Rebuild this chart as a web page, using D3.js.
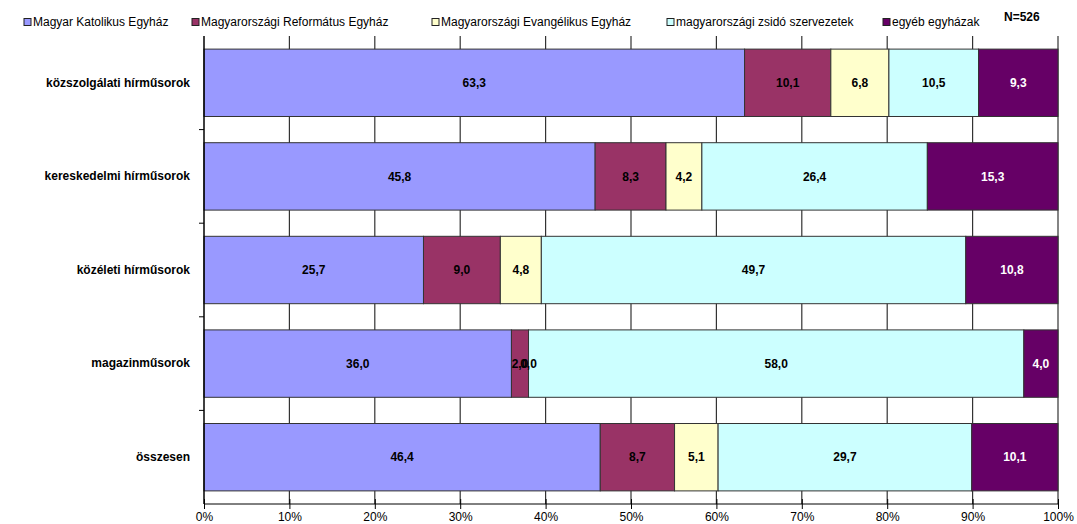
<!DOCTYPE html>
<html>
<head>
<meta charset="utf-8">
<script src="https://cdn.jsdelivr.net/npm/d3@7"></script>
<style>
  body { margin: 0; background: #fff; }
  text { font-family: "Liberation Sans", Arial, sans-serif; }
</style>
</head>
<body>
<div id="chart"></div>
<script>
// categories (top to bottom)
var categories = ["közszolgálati hírműsorok", "kereskedelmi hírműsorok", "közéleti hírműsorok", "magazinműsorok", "összesen"];
var seriesNames = ["Magyar Katolikus Egyház", "Magyarországi Református Egyház", "Magyarországi Evangélikus Egyház", "magyarországi zsidó szervezetek", "egyéb egyházak"];
// values per series, in category order
var katolikus = [63.3, 45.8, 25.7, 36.0, 46.4];
var reformatus = [10.1, 8.3, 9.0, 2.0, 8.7];
var evangelikus = [6.8, 4.2, 4.8, 0.0, 5.1];
var zsido = [10.5, 26.4, 49.7, 58.0, 29.7];
var egyeb = [9.3, 15.3, 10.8, 4.0, 10.1];
var xTicks = [0, 10, 20, 30, 40, 50, 60, 70, 80, 90, 100];

var colors = ["#9999ff", "#993366", "#ffffcc", "#ccffff", "#660066"];
var labelColors = ["#000", "#000", "#000", "#000", "#fff"];

var width = 1077, height = 524;
var margin = { top: 36, right: 19, bottom: 20, left: 204 };
var innerW = width - margin.left - margin.right,
    innerH = height - margin.top - margin.bottom;

var svg = d3.select("#chart").append("svg")
    .attr("width", width)
    .attr("height", height);

var g = svg.append("g")
    .attr("transform", "translate(" + margin.left + "," + margin.top + ")");

var x = d3.scaleLinear().domain([0, 100]).range([0, innerW]);
var y = d3.scaleBand().domain(categories).range([0, innerH]).paddingInner(0.28).paddingOuter(0.14);

// build rows
var series = [katolikus, reformatus, evangelikus, zsido, egyeb];
var rows = categories.map(function (c, i) {
    var r = { cat: c };
    seriesNames.forEach(function (s, j) { r[s] = series[j][i]; });
    return r;
});
var stacked = d3.stack().keys(seriesNames)(rows);

// vertical gridlines
g.selectAll(".grid")
    .data(xTicks.slice(1))
    .enter().append("line")
    .attr("x1", function (d) { return x(d); })
    .attr("x2", function (d) { return x(d); })
    .attr("y1", 0)
    .attr("y2", innerH)
    .attr("stroke", "#333")
    .attr("stroke-width", 1.2);

// bars
var layers = g.selectAll(".layer")
    .data(stacked)
    .enter().append("g")
    .attr("fill", function (d, i) { return colors[i]; });

layers.selectAll("rect")
    .data(function (d) { return d; })
    .enter().append("rect")
    .attr("x", function (d) { return x(d[0]); })
    .attr("y", function (d) { return y(d.data.cat); })
    .attr("width", function (d) { return x(d[1]) - x(d[0]); })
    .attr("height", y.bandwidth())
    .attr("stroke", "#333")
    .attr("stroke-width", 1);

// value labels
stacked.forEach(function (layer, i) {
    g.selectAll(".lbl" + i)
        .data(layer)
        .enter().append("text")
        .attr("x", function (d) { return x((d[0] + d[1]) / 2); })
        .attr("y", function (d) { return y(d.data.cat) + y.bandwidth() / 2; })
        .attr("dy", "0.35em")
        .attr("text-anchor", "middle")
        .attr("font-size", 12)
        .attr("font-weight", "bold")
        .attr("fill", labelColors[i])
        .text(function (d) { return (d[1] - d[0]).toFixed(1).replace(".", ","); });
});

// x axis
var xAxis = g.append("g")
    .attr("transform", "translate(0," + innerH + ")")
    .call(d3.axisBottom(x).tickValues(xTicks).tickSize(5).tickPadding(3).tickFormat(function (d) { return d + "%"; }));
xAxis.select(".domain").attr("stroke", "#000").attr("d", "M0,0H" + innerW);
xAxis.selectAll(".tick line").attr("stroke", "#000").attr("y1", -5).attr("y2", 5);
xAxis.selectAll("text").attr("font-size", 12).attr("fill", "#000");

// y axis
var yAxis = g.append("g").call(d3.axisLeft(y).tickSize(0).tickPadding(14));
yAxis.select(".domain").attr("stroke", "#000").attr("stroke-width", 1.5).attr("d", "M0,0V" + innerH);
yAxis.selectAll("text").attr("font-size", 12).attr("font-weight", "bold").attr("fill", "#000");
// ticks between categories
var step = y.step();
g.selectAll(".ytick")
    .data(categories.slice(1))
    .enter().append("line")
    .attr("x1", -5).attr("x2", 0)
    .attr("y1", function (d) { return y(d) - step * y.paddingInner() / 2; })
    .attr("y2", function (d) { return y(d) - step * y.paddingInner() / 2; })
    .attr("stroke", "#000");

// legend
var legendX = [24, 192, 432, 667, 883];
var legend = svg.append("g").attr("transform", "translate(0,22)");
seriesNames.forEach(function (s, i) {
    var lg = legend.append("g").attr("transform", "translate(" + legendX[i] + ",0)");
    lg.append("rect")
        .attr("x", 0).attr("y", -3.5)
        .attr("width", 7).attr("height", 7)
        .attr("fill", colors[i])
        .attr("stroke", "#222");
    lg.append("text")
        .attr("x", 9).attr("y", 0)
        .attr("dy", "0.35em")
        .attr("font-size", 12)
        .attr("fill", "#000")
        .text(s);
});

svg.append("text")
    .attr("x", 1004).attr("y", 17)
    .attr("dy", "0.35em")
    .attr("font-size", 12)
    .attr("font-weight", "bold")
    .text("N=526");
</script>
</body>
</html>
